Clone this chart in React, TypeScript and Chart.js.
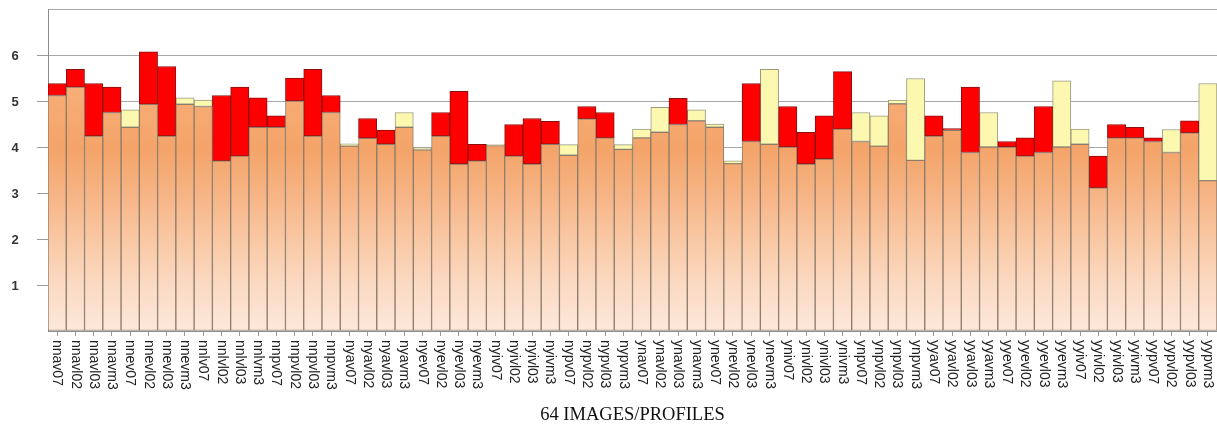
import React, { useEffect, useRef } from "react";
import { Chart, registerables } from "chart.js";

Chart.register(...registerables);

const labels = [
  "nnav07", "nnavl02", "nnavl03", "nnavm3", "nnev07", "nnevl02", "nnevl03", "nnevm3",
  "nnlv07", "nnlvl02", "nnlvl03", "nnlvm3", "nnpv07", "nnpvl02", "nnpvl03", "nnpvm3",
  "nyav07", "nyavl02", "nyavl03", "nyavm3", "nyev07", "nyevl02", "nyevl03", "nyevm3",
  "nyiv07", "nyivl02", "nyivl03", "nyivm3", "nypv07", "nypvl02", "nypvl03", "nypvm3",
  "ynav07", "ynavl02", "ynavl03", "ynavm3", "ynev07", "ynevl02", "ynevl03", "ynevm3",
  "yniv07", "ynivl02", "ynivl03", "ynivm3", "ynpv07", "ynpvl02", "ynpvl03", "ynpvm3",
  "yyav07", "yyavl02", "yyavl03", "yyavm3", "yyev07", "yyevl02", "yyevl03", "yyevm3",
  "yyiv07", "yyivl02", "yyivl03", "yyivm3", "yypv07", "yypvl02", "yypvl03", "yypvm3",
];

// first measurement per image/profile
const scoreA = [
  5.12, 5.30, 4.24, 4.75, 4.81, 4.93, 4.24, 5.07,
  5.02, 3.70, 3.80, 4.43, 4.43, 5.00, 4.24, 4.75,
  4.07, 4.19, 4.06, 4.75, 3.98, 4.24, 3.63, 3.70,
  4.05, 3.80, 3.63, 4.06, 4.05, 4.61, 4.20, 4.05,
  4.39, 4.86, 4.49, 4.81, 4.50, 3.70, 4.12, 5.69,
  4.00, 3.63, 3.74, 4.39, 4.75, 4.68, 5.02, 5.49,
  4.24, 4.36, 3.88, 4.75, 4.00, 3.80, 3.88, 5.44,
  4.39, 3.11, 4.20, 4.20, 4.12, 4.38, 4.31, 5.38,
];

// second measurement per image/profile
const scoreB = [
  5.38, 5.69, 5.38, 5.30, 4.43, 6.07, 5.75, 4.93,
  4.88, 5.12, 5.30, 5.07, 4.68, 5.50, 5.69, 5.12,
  4.02, 4.62, 4.37, 4.43, 3.94, 4.75, 5.21, 4.06,
  4.03, 4.49, 4.62, 4.56, 3.82, 4.88, 4.75, 3.95,
  4.20, 4.32, 5.06, 4.57, 4.43, 3.64, 5.38, 4.06,
  4.88, 4.32, 4.68, 5.64, 4.12, 4.02, 4.94, 3.71,
  4.68, 4.40, 5.30, 4.00, 4.12, 4.20, 4.88, 4.00,
  4.06, 3.80, 4.49, 4.43, 4.20, 3.88, 4.57, 3.27,
];

const yTickValues = [1, 2, 3, 4, 5, 6];
const xTitle = "64 IMAGES/PROFILES";

export default function App() {
  const canvasRef = useRef<HTMLCanvasElement | null>(null);

  useEffect(() => {
    const canvas = canvasRef.current;
    if (!canvas) return;

    const baseVals = scoreA.map((a, i) => Math.min(a, scoreB[i]));
    const redVals = scoreA.map((a, i) => (scoreB[i] > a ? scoreB[i] - a : null));
    const yellowVals = scoreA.map((a, i) => (a > scoreB[i] ? a - scoreB[i] : null));

    const orangeFill = (ctx: any) => {
      const chart = ctx.chart;
      const area = chart.chartArea;
      if (!area) return "#f6ad78";
      const ys = chart.scales.y;
      const y0 = ys.getPixelForValue(0);
      const yTop = ys.getPixelForValue(5.5);
      const g = chart.ctx.createLinearGradient(0, y0, 0, yTop);
      g.addColorStop(0, "#fde8da");
      g.addColorStop(0.18, "#fbdac3");
      g.addColorStop(0.36, "#f9c8a4");
      g.addColorStop(0.55, "#f6b383");
      g.addColorStop(0.72, "#f4a469");
      g.addColorStop(0.9, "#f6ab73");
      g.addColorStop(1, "#f7b27e");
      return g;
    };

    const axisLabels = {
      id: "axisLabels",
      afterDraw(chart: any) {
        const xs = chart.scales.x;
        const ys = chart.scales.y;
        const c = chart.ctx;
        c.save();
        c.fillStyle = "#222";
        c.font = "14px 'Liberation Sans', Arial, sans-serif";
        c.textAlign = "left";
        c.textBaseline = "middle";
        labels.forEach((lab, i) => {
          const x = xs.getPixelForTick(i);
          c.save();
          c.translate(x, xs.top + 9);
          c.rotate(Math.PI / 2);
          c.fillText(lab, 0, 0);
          c.restore();
        });
        c.fillStyle = "#333";
        c.font = "bold 13px 'Liberation Sans', Arial, sans-serif";
        c.textAlign = "center";
        yTickValues.forEach((v) => {
          c.fillText(String(v), 15, ys.getPixelForValue(v) + 1);
        });
        c.restore();
      },
    };

    const chart = new Chart(canvas, {
      type: "bar",
      data: {
        labels,
        datasets: [
          {
            label: "base",
            data: baseVals,
            backgroundColor: orangeFill,
            borderColor: "#8c7b6b",
            borderWidth: 1,
            borderSkipped: false,
            barPercentage: 1,
            categoryPercentage: 1,
          },
          {
            label: "higher second",
            data: redVals,
            backgroundColor: "#ff0000",
            borderColor: "#8a1010",
            borderWidth: 1,
            borderSkipped: false,
            barPercentage: 1,
            categoryPercentage: 1,
          },
          {
            label: "higher first",
            data: yellowVals,
            backgroundColor: "#fdf8b0",
            borderColor: "#9a9a80",
            borderWidth: 1,
            borderSkipped: false,
            barPercentage: 1,
            categoryPercentage: 1,
          },
        ],
      },
      options: {
        animation: false,
        responsive: false,
        maintainAspectRatio: false,
        layout: { padding: { top: 9, right: 0, left: 0, bottom: 0 } },
        plugins: { legend: { display: false }, tooltip: { enabled: false } },
        scales: {
          x: {
            stacked: true,
            grid: {
              offset: false,
              drawOnChartArea: false,
              drawTicks: true,
              tickLength: 5,
              color: "#9a9a9a",
            },
            border: { display: true, color: "#8c8c8c" },
            ticks: { display: false },
            title: {
              display: true,
              text: xTitle,
              color: "#111",
              font: { family: "'Liberation Serif', 'Times New Roman', serif", size: 18.5 },
              padding: { top: 0, bottom: -1 },
            },
            afterFit: (scale: any) => {
              scale.height = 94;
            },
          },
          y: {
            stacked: true,
            min: 0,
            max: 7,
            afterBuildTicks: (scale: any) => {
              scale.ticks = [0, ...yTickValues, 7].map((v) => ({ value: v }));
            },
            ticks: { display: false },
            grid: {
              color: "#a8a8a8",
              tickLength: 11,
              tickColor: (ctx: any) =>
                ctx.tick && yTickValues.includes(ctx.tick.value) ? "#9a9a9a" : "rgba(0,0,0,0)",
            },
            border: { display: true, color: "#8c8c8c" },
            afterFit: (scale: any) => {
              scale.width = 48;
            },
          },
        },
      },
      plugins: [axisLabels],
    });

    return () => chart.destroy();
  }, []);

  return (
    <div style={{ position: "fixed", left: 0, top: 0, width: 1217, height: 425, background: "#fff" }}>
      <canvas ref={canvasRef} width={1217} height={425} />
    </div>
  );
}
